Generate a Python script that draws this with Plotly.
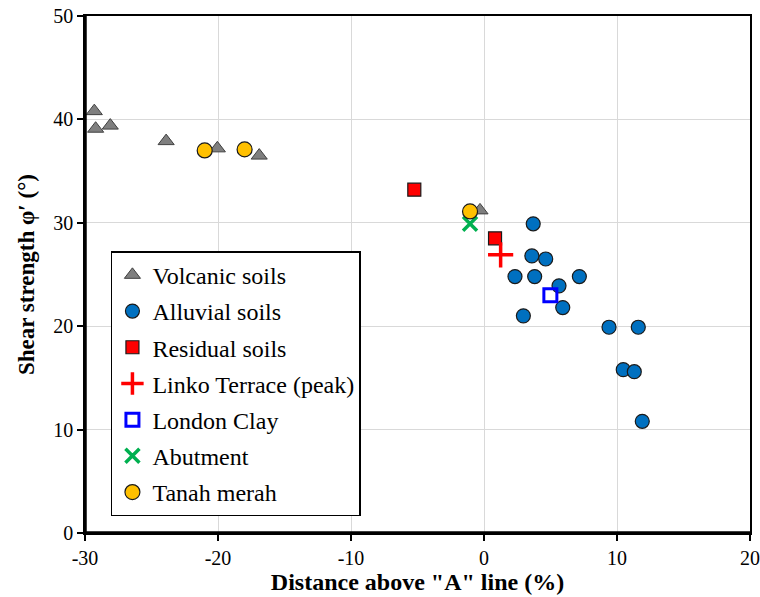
import plotly.graph_objects as go

# Distance above "A" line (%) and drained friction angle (deg) per soil group
volcanic_x = [-29.3, -29.2, -28.1, -23.9, -20.05, -16.9, -0.3]
volcanic_y = [40.8, 39.1, 39.4, 37.9, 37.2, 36.5, 31.2]

alluvial_x = [3.7, 3.6, 4.64, 2.33, 3.81, 7.17, 5.64, 5.92, 2.96, 9.4, 11.6, 10.47, 11.3, 11.9]
alluvial_y = [29.9, 26.8, 26.5, 24.8, 24.8, 24.8, 23.9, 21.8, 21.0, 19.9, 19.9, 15.8, 15.6, 10.8]

residual_x = [-5.24, 0.83]
residual_y = [33.2, 28.5]

linko_x = [1.25]
linko_y = [26.9]

london_x = [4.99]
london_y = [23.0]

abutment_x = [-1.05]
abutment_y = [29.9]

tanah_x = [-21.0, -18.0, -1.05]
tanah_y = [37.0, 37.1, 31.1]

x_ticks = [-30, -20, -10, 0, 10, 20]
x_tick_text = ["-30", "-20", "-10", "0", "10", "20"]
y_ticks = [0, 10, 20, 30, 40, 50]
y_tick_text = ["0", "10", "20", "30", "40", "50"]

FONT = "Liberation Serif"

fig = go.Figure()

series = [
    ("Volcanic soils", volcanic_x, volcanic_y,
     dict(symbol="triangle-up", size=14, color="#7f7f7f", line=dict(color="#404040", width=1))),
    ("Alluvial soils", alluvial_x, alluvial_y,
     dict(symbol="circle", size=14, color="#0070c0", line=dict(color="#1a1a1a", width=1.2))),
    ("Residual soils", residual_x, residual_y,
     dict(symbol="square", size=13, color="#ff0000", line=dict(color="#1a1a1a", width=1.2))),
    ("Linko Terrace (peak)", linko_x, linko_y,
     dict(symbol="cross-thin", size=18, color="#ff0000", line=dict(color="#ff0000", width=3.5))),
    ("London Clay", london_x, london_y,
     dict(symbol="square-open", size=13, color="#0000ff", line=dict(color="#0000ff", width=3))),
    ("Abutment", abutment_x, abutment_y,
     dict(symbol="x-thin", size=14, color="#00b050", line=dict(color="#00b050", width=3.5))),
    ("Tanah merah", tanah_x, tanah_y,
     dict(symbol="circle", size=15, color="#ffc000", line=dict(color="#1a1a1a", width=1.2))),
]

for i, (name, xs, ys, marker) in enumerate(series):
    fig.add_trace(go.Scatter(x=xs, y=ys, mode="markers", name=name, marker=marker,
                             legendgroup=f"g{i}"))

axis_common = dict(
    showgrid=True, gridcolor="#d9d9d9", gridwidth=1.3, automargin=False,
    zeroline=False, showline=True, linecolor="black", linewidth=1.5, mirror=True,
    ticks="outside", ticklen=6, tickwidth=2, tickcolor="black",
    tickfont=dict(family=FONT, size=20, color="black"),
)

fig.update_xaxes(range=[-30, 20], tickvals=x_ticks, ticktext=x_tick_text, **axis_common,
                 title=dict(text='<b>Distance above "A" line (%)</b>',
                            font=dict(family=FONT, size=24, color="black"), standoff=3))
fig.update_yaxes(range=[0, 50], tickvals=y_ticks, ticktext=y_tick_text, **axis_common,
                 title=dict(text="<b>Shear strength φ′ (°)</b>",
                            font=dict(family=FONT, size=23, color="black"), standoff=12))

# heavier left and bottom axis lines
fig.add_shape(type="line", xref="paper", yref="paper", x0=0, x1=0, y0=0, y1=1,
              line=dict(color="black", width=3.5))
fig.add_shape(type="line", xref="paper", yref="paper", x0=0, x1=1, y0=0, y1=0,
              line=dict(color="black", width=3.5))

fig.update_layout(
    width=760, height=597,
    margin=dict(l=85, r=10, t=16, b=64),
    plot_bgcolor="white", paper_bgcolor="white",
    font=dict(family=FONT, color="black"),
    legend=dict(
        x=0.039, y=0.545, xanchor="left", yanchor="top",
        bgcolor="white", bordercolor="black", borderwidth=1.5,
        font=dict(family=FONT, size=24, color="black"),
        tracegroupgap=2, itemwidth=30,
    ),
)

fig.write_html("out.html")
